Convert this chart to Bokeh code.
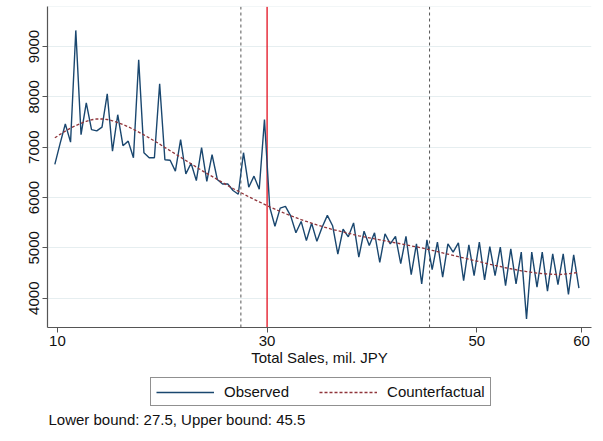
from bokeh.plotting import figure
from bokeh.layouts import column
from bokeh.models import (ColumnDataSource, Span, Legend, LegendItem, Label,
                          FixedTicker, Range1d)
from bokeh.embed import file_html
from bokeh.resources import INLINE

# Bin midpoints of total sales (mil. JPY), 0.5 wide bins
bin_start = 9.75
bin_width = 0.5
n_bins = 101
sales_bins = [bin_start + bin_width * i for i in range(n_bins)]

# Observed number of firms per bin
observed = [
    6660, 7070, 7460, 7100, 9320, 7250, 7880, 7350, 7325, 7400,
    8060, 6920, 7645, 7030, 7120, 6790, 8735, 6890, 6790, 6790,
    8260, 6750, 6740, 6525, 7150, 6470, 6680, 6335, 6990, 6320,
    6850, 6360, 6270, 6270, 6140, 6065, 6890, 6205, 6425, 6165,
    7550, 5810, 5430, 5790, 5825, 5635, 5300, 5525, 5145, 5490,
    5130, 5410, 5645, 5440, 4875, 5370, 5220, 5495, 4815, 5330,
    5045, 5300, 4710, 5280, 5080, 5230, 4685, 5230, 4470, 5080,
    4285, 5160, 4570, 5115, 4420, 5080, 4915, 5100, 4350, 5060,
    4450, 5115, 4365, 5025, 4450, 5015, 4250, 4980, 4285, 4915,
    3590, 4915, 4220, 4915, 4140, 4880, 4270, 4880, 4075, 4860,
    4200,
]

# Counterfactual (fitted) distribution per bin
counterfactual = [
    7186, 7255, 7320, 7380, 7430, 7475, 7515, 7545, 7560, 7560,
    7550, 7525, 7490, 7450, 7405, 7355, 7300, 7245, 7185, 7125,
    7060, 6995, 6930, 6865, 6800, 6735, 6670, 6605, 6540, 6480,
    6420, 6360, 6300, 6240, 6180, 6125, 6070, 6015, 5965, 5915,
    5865, 5815, 5770, 5725, 5680, 5640, 5600, 5560, 5525, 5490,
    5455, 5425, 5395, 5365, 5340, 5315, 5290, 5265, 5240, 5220,
    5200, 5180, 5160, 5140, 5120, 5100, 5080, 5060, 5040, 5020,
    5000, 4975, 4950, 4925, 4900, 4875, 4850, 4825, 4800, 4775,
    4750, 4725, 4700, 4675, 4650, 4630, 4605, 4585, 4565, 4545,
    4530, 4515, 4500, 4490, 4480, 4475, 4470, 4475, 4485, 4500,
    4515,
]

threshold = 30
lower_bound = 27.5
upper_bound = 45.5

x_ticks = [10, 30, 50, 60]
y_ticks = [4000, 5000, 6000, 7000, 8000, 9000]

FONT = "Liberation Sans"
FS = "15px"
GRID = "#e6eef0"
OBS_STYLE = dict(line_color="#1a476f", line_width=1.4)
CF_STYLE = dict(line_color="#90353b", line_width=1.3, line_dash="3 2")

source = ColumnDataSource(dict(x=sales_bins, obs=observed, cf=counterfactual))

p = figure(width=603, height=372,
           x_range=Range1d(9.05, 60.95), y_range=Range1d(3418, 9795),
           output_backend="svg", toolbar_location=None,
           min_border_left=47, min_border_right=12,
           min_border_top=6, min_border_bottom=45)
p.background_fill_color = "white"
p.border_fill_color = "white"
p.outline_line_color = None

# bounds of the bunching window and the threshold
for loc in (lower_bound, upper_bound):
    p.add_layout(Span(location=loc, dimension="height", line_color="#555555",
                      line_width=1, line_dash="3 3", level="underlay"))
p.add_layout(Span(location=threshold, dimension="height", line_color="#e3101e",
                  line_width=1.3, level="underlay"))
# top edge of the plot region
p.add_layout(Span(location=9795, dimension="width", line_color=GRID,
                  line_width=1, level="underlay"))

p.line("x", "obs", source=source, **OBS_STYLE)
p.line("x", "cf", source=source, **CF_STYLE)

# axes
p.xgrid.visible = False
p.ygrid.grid_line_color = GRID
p.ygrid.grid_line_width = 1
p.xaxis.ticker = FixedTicker(ticks=x_ticks)
p.yaxis.ticker = FixedTicker(ticks=y_ticks)
for ax in (p.xaxis, p.yaxis):
    ax.axis_line_color = "#555555"
    ax.axis_line_width = 1.2
    ax.major_tick_line_color = "#555555"
    ax.major_tick_out = 5
    ax.major_tick_in = 0
    ax.minor_tick_line_color = None
    ax.major_label_text_font = FONT
    ax.major_label_text_font_size = FS
    ax.major_label_text_color = "#111111"
    ax.major_label_standoff = 3
p.yaxis.major_label_orientation = "vertical"
p.xaxis.axis_label = "Total Sales, mil. JPY"
p.xaxis.axis_label_text_font = FONT
p.xaxis.axis_label_text_font_size = FS
p.xaxis.axis_label_text_font_style = "normal"
p.xaxis.axis_label_text_color = "#111111"
p.xaxis.axis_label_standoff = 0

# strip under the chart holding the legend box and the bounds note;
# its frame lines up with the chart's frame (left edge at 47 px)
foot = figure(width=603, height=69, x_range=Range1d(0, 544), y_range=Range1d(0, 69),
              output_backend="svg", toolbar_location=None,
              x_axis_location=None, y_axis_location=None,
              min_border=0)
foot.grid.visible = False
foot.outline_line_color = None
foot.background_fill_color = "white"
foot.border_fill_color = "white"
# keys for the legend, kept outside the visible strip
k_obs = foot.line(x=[-20, -10], y=[-20, -20], **OBS_STYLE)
k_cf = foot.line(x=[-20, -10], y=[-20, -20], **CF_STYLE)

legend = Legend(items=[LegendItem(label="Observed", renderers=[k_obs]),
                       LegendItem(label="Counterfactual", renderers=[k_cf])],
                orientation="horizontal", location=(103, 35),
                border_line_color="#222222", border_line_width=1,
                background_fill_alpha=1.0,
                glyph_width=58, glyph_height=16, label_standoff=10,
                spacing=30, padding=5, margin=0,
                label_text_font=FONT, label_text_font_size=FS,
                label_text_color="#111111")
foot.add_layout(legend, "center")

note = Label(x=1, y=22, x_units="screen", y_units="screen",
             text=f"Lower bound: {lower_bound}, Upper bound: {upper_bound}",
             text_font=FONT, text_font_size=FS, text_color="#111111",
             text_baseline="middle", text_align="left")
foot.add_layout(note)

layout = column(p, foot, spacing=0)
open("out.html", "w").write(file_html(layout, INLINE))
